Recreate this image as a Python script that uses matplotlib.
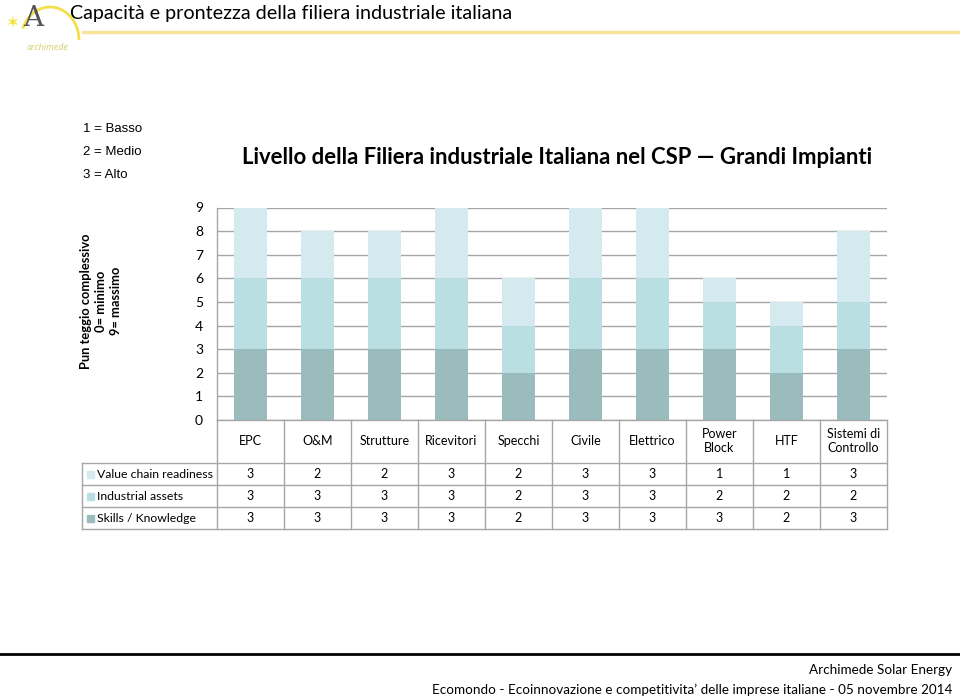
import matplotlib
matplotlib.use("Agg")
import matplotlib.pyplot as plt
from matplotlib.transforms import blended_transform_factory
from matplotlib.patches import Arc, Rectangle
from matplotlib.lines import Line2D
import numpy as np

categories = ["EPC", "O&M", "Strutture", "Ricevitori", "Specchi", "Civile",
              "Elettrico", "Power\nBlock", "HTF", "Sistemi di\nControllo"]
skills = [3, 3, 3, 3, 2, 3, 3, 3, 2, 3]
industrial = [3, 3, 3, 3, 2, 3, 3, 2, 2, 2]
value_chain = [3, 2, 2, 3, 2, 3, 3, 1, 1, 3]
series_names = ["Value chain readiness", "Industrial assets", "Skills / Knowledge"]
yticks = list(range(0, 10))
scale_notes = ["1 = Basso", "2 = Medio", "3 = Alto"]

c_sk = "#9bbcbd"
c_ind = "#b9dfe3"
c_val = "#d4eaee"
grid_c = "#a6a6a6"
font = "Lato"

W, H = 960, 699
fig = plt.figure(figsize=(9.6, 6.99), dpi=100)


def fx(px):
    return px / W


def fy(py):
    return 1 - py / H


# header
fig.text(fx(70), fy(13), "Capacità e prontezza della filiera industriale italiana",
         fontsize=14.2, family=font, va="center", ha="left")
fig.add_artist(Line2D([fx(83), 1], [fy(32), fy(32)], color="#f7e39a", lw=2.5))

# rough logo
fig.add_artist(Arc((fx(50), fy(40)), fx(58), 66 / H, theta1=0, theta2=150,
                   color="#f2e04a", lw=2, transform=fig.transFigure))
fig.text(fx(33), fy(19), "A", fontsize=20, family="DejaVu Serif", color="#555555",
         ha="center", va="center")
fig.text(fx(12), fy(23), "✶", fontsize=12, color="#f3e23a", ha="center", va="center",
         family="DejaVu Sans")
fig.text(fx(48), fy(47), "archimede", fontsize=7, color="#d9d27a", ha="center",
         va="center", family=font, style="italic")

# scale notes
for i, s in enumerate(scale_notes):
    fig.text(fx(83), fy(129 + 23 * i), s, fontsize=9.5, family="Liberation Sans",
             va="center", ha="left")

fig.text(fx(557), fy(157), "Livello della Filiera industriale Italiana nel CSP \u2014 Grandi Impianti",
         fontsize=15.9, family=font, weight="bold", ha="center", va="center")

fig.text(fx(101), fy(301), "Pun teggio complessivo\n0= minimo\n9= massimo",
         rotation=90, fontsize=9.3, family=font, weight="bold", ha="center",
         va="center", multialignment="center", linespacing=1.3)

# chart
ax = fig.add_axes([fx(217), fy(420), fx(887) - fx(217), (420 - 207.5) / H])
x = np.arange(len(categories))
sk = np.array(skills)
ind = np.array(industrial)
ax.bar(x, sk, 0.5, color=c_sk, zorder=2)
ax.bar(x, ind, 0.5, bottom=sk, color=c_ind, zorder=2)
ax.bar(x, value_chain, 0.5, bottom=sk + ind, color=c_val, zorder=2)
ax.set_xlim(-0.5, len(categories) - 0.5)
ax.set_ylim(0, 9)
ax.set_yticks(yticks)
ax.set_xticks([])
ax.yaxis.grid(True, color=grid_c, lw=1)
ax.set_axisbelow(True)
ax.tick_params(axis="y", length=0, pad=10, labelsize=10)
for lab in ax.get_yticklabels():
    lab.set_family(font)
for s in ["top", "right"]:
    ax.spines[s].set_visible(False)
for s in ["left", "bottom"]:
    ax.spines[s].set_color(grid_c)
ax.spines["left"].set_linewidth(1)
ax.spines["bottom"].set_linewidth(1)

# data table under the chart
tr = blended_transform_factory(ax.transData, fig.transFigure)
row_lines = [463, 485, 507, 529]
for i in range(len(categories) + 1):
    fig.add_artist(Line2D([i - 0.5, i - 0.5], [fy(420), fy(529)], color=grid_c,
                          lw=1, transform=tr))
for yl in row_lines:
    fig.add_artist(Line2D([fx(82), fx(887)], [fy(yl), fy(yl)], color=grid_c, lw=1))
fig.add_artist(Line2D([fx(82), fx(82)], [fy(463), fy(529)], color=grid_c, lw=1))

for i, c in enumerate(categories):
    ax.text(i, fy(441), c, transform=tr, ha="center", va="center", fontsize=9,
            family=font, multialignment="center", linespacing=1.3)

rows = [value_chain, industrial, skills]
cols = [c_val, c_ind, c_sk]
for r, (name, vals, col) in enumerate(zip(series_names, rows, cols)):
    yc = (row_lines[r] + row_lines[r + 1]) / 2
    fig.add_artist(Rectangle((fx(87), fy(yc + 3.5)), fx(7), 7 / H, color=col,
                             transform=fig.transFigure))
    fig.text(fx(97), fy(yc), name, fontsize=8.8, family=font, va="center", ha="left")
    for i, v in enumerate(vals):
        ax.text(i, fy(yc), str(v), transform=tr, ha="center", va="center",
                fontsize=9, family=font)

# footer
fig.add_artist(Line2D([0, 1], [fy(654), fy(654)], color="black", lw=2))
fig.text(fx(952), fy(670), "Archimede Solar Energy", fontsize=9.7, family=font,
         ha="right", va="center")
fig.text(fx(952), fy(690),
         "Ecomondo - Ecoinnovazione e competitivita\u2019 delle imprese italiane - 05 novembre 2014",
         fontsize=9.7, family=font, ha="right", va="center")

fig.savefig("out.png", dpi=100)
